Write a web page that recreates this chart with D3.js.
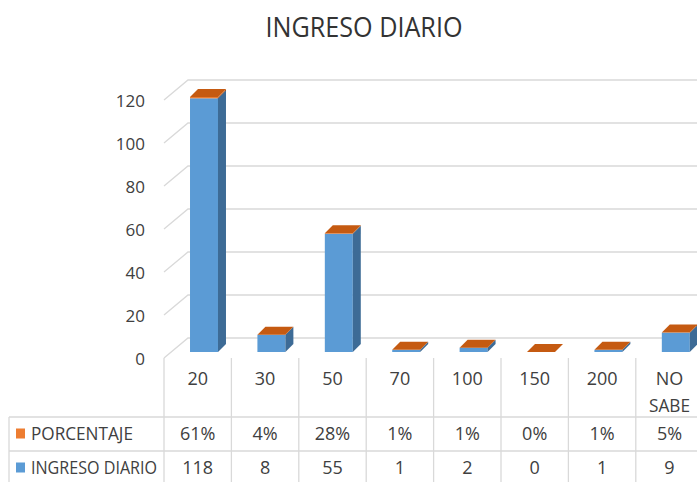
<!DOCTYPE html>
<html>
<head>
<meta charset="utf-8">
<script src="https://cdn.jsdelivr.net/npm/d3@7"></script>
<style>
  body { margin: 0; background: #fff; }
  svg { display: block; }
</style>
</head>
<body>
<div id="chart"></div>
<script>
// datos del gráfico
const categories = ["20", "30", "50", "70", "100", "150", "200", "NO SABE"];
const ingreso = [118, 8, 55, 1, 2, 0, 1, 9];
const porcentaje = [0.61, 0.04, 0.28, 0.01, 0.01, 0, 0.01, 0.05];
const porcentajeLabels = ["61%", "4%", "28%", "1%", "1%", "0%", "1%", "5%"];
const yTicks = [0, 20, 40, 60, 80, 100, 120];

const width = 697, height = 482;
const font = "'Open Sans', sans-serif";
const textColor = "#404040";

const svg = d3.select("#chart").append("svg")
  .attr("width", width)
  .attr("height", height);

// escalas
const x = d3.scaleBand().domain(categories).range([164, 164 + 8 * 67.4]);
const y = d3.scaleLinear().domain([0, 120]).range([358, 100]);

// profundidad 3D (pared de fondo y barras)
const wall = { dx: 24, dy: -20 };
const barOff = { dx: 6.3, dy: -6 };
const barDepth = { dx: 8, dy: -8 };
const barW = x.bandwidth() * 0.415;

// título
svg.append("text")
  .attr("x", 364).attr("y", 37)
  .attr("text-anchor", "middle")
  .attr("font-family", font)
  .attr("font-size", "27px")
  .attr("textLength", 197)
  .attr("lengthAdjust", "spacingAndGlyphs")
  .attr("fill", "#333")
  .text("INGRESO DIARIO");

// líneas de cuadrícula (pared izquierda + pared de fondo)
const grid = svg.append("g").attr("fill", "none").attr("stroke", "#d9d9d9").attr("stroke-width", 1.3);
yTicks.forEach((t) => {
  const x0 = x.range()[0], y0 = y(t);
  grid.append("path")
    .attr("d", `M${x0},${y0}L${x0 + wall.dx},${y0 + wall.dy}L${width},${y0 + wall.dy}`);
});

// etiquetas del eje Y
svg.append("g").selectAll("text")
  .data(yTicks)
  .enter().append("text")
  .attr("x", 145)
  .attr("y", (d) => y(d) + 1)
  .attr("dy", ".35em")
  .attr("text-anchor", "end")
  .attr("font-family", font)
  .attr("font-size", "17px")
  .attr("fill", textColor)
  .text((d) => d);

// barras apiladas en 3D
const barData = categories.map((c, i) => ({ cat: c, v: ingreso[i], p: porcentaje[i] }));
const bars = svg.append("g");

function box(g, x0, yb, yt, front, side, top) {
  const w = barW, dx = barDepth.dx, dy = barDepth.dy;
  if (yb - yt > 0) {
    g.append("rect").attr("x", x0).attr("y", yt).attr("width", w).attr("height", yb - yt).attr("fill", front);
    g.append("path").attr("d", `M${x0 + w},${yt}L${x0 + w + dx},${yt + dy}L${x0 + w + dx},${yb + dy}L${x0 + w},${yb}Z`).attr("fill", side);
  }
  if (top) {
    g.append("path").attr("d", `M${x0},${yt}L${x0 + dx},${yt + dy}L${x0 + w + dx},${yt + dy}L${x0 + w},${yt}Z`).attr("fill", top);
  }
}

barData.forEach((d) => {
  const g = bars.append("g");
  const x0 = x(d.cat) + (x.bandwidth() - barW) / 2 + barOff.dx;
  const yb = y(0) + barOff.dy;
  const y1 = y(d.v) + barOff.dy;
  const y2 = y(d.v + d.p) + barOff.dy;
  box(g, x0, yb, y1, "#5b9bd5", "#3d6b96", null);
  box(g, x0, y1, y2, "#ed7d31", "#a9521a", "#c55a11");
});

// tabla de datos
const table = svg.append("g").attr("stroke", "#d9d9d9").attr("stroke-width", 1.3);
const xr = x.range();
const rowTop = 417, rowMid = 451, rowBot = 485;
// líneas verticales entre categorías
categories.forEach((c) => {
  table.append("line").attr("x1", x(c)).attr("x2", x(c)).attr("y1", 358).attr("y2", rowBot);
});
table.append("line").attr("x1", xr[1]).attr("x2", xr[1]).attr("y1", 358).attr("y2", rowBot);
table.append("line").attr("x1", 9).attr("x2", 9).attr("y1", rowTop).attr("y2", rowBot);
[rowTop, rowMid, rowBot].forEach((yy) => {
  table.append("line").attr("x1", 9).attr("x2", width).attr("y1", yy).attr("y2", yy);
});

const tableText = svg.append("g")
  .attr("font-family", font)
  .attr("font-size", "18px")
  .attr("fill", textColor)
  .attr("text-anchor", "middle");

// encabezados de categoría
tableText.selectAll(".cat")
  .data(categories)
  .enter().append("text")
  .attr("x", (d) => x(d) + x.bandwidth() / 2)
  .attr("y", 385)
  .each(function (d) {
    const parts = d.split(" ");
    d3.select(this).selectAll("tspan")
      .data(parts)
      .enter().append("tspan")
      .attr("x", x(d) + x.bandwidth() / 2)
      .attr("dy", (p, j) => (j === 0 ? 0 : 27))
      .attr("textLength", (p) => (p.length > 3 ? 41 : null))
      .attr("lengthAdjust", "spacingAndGlyphs")
      .text((p) => p);
  });

// filas de valores
const rows = [
  { name: "PORCENTAJE", color: "#ed7d31", labels: porcentajeLabels, y: 433.5, len: 102 },
  { name: "INGRESO DIARIO", color: "#5b9bd5", labels: ingreso.map(String), y: 467.5, len: 126 }
];
rows.forEach((r) => {
  svg.append("rect").attr("x", 16).attr("y", r.y - 5).attr("width", 9).attr("height", 10).attr("fill", r.color);
  svg.append("text")
    .attr("x", 31).attr("y", r.y).attr("dy", ".35em")
    .attr("font-family", font).attr("font-size", "18px").attr("fill", textColor)
    .attr("textLength", r.len).attr("lengthAdjust", "spacingAndGlyphs")
    .text(r.name);
  tableText.selectAll(null)
    .data(r.labels)
    .enter().append("text")
    .attr("x", (d, i) => x(categories[i]) + x.bandwidth() / 2)
    .attr("y", r.y).attr("dy", ".35em")
    .text((d) => d);
});
</script>
</body>
</html>
